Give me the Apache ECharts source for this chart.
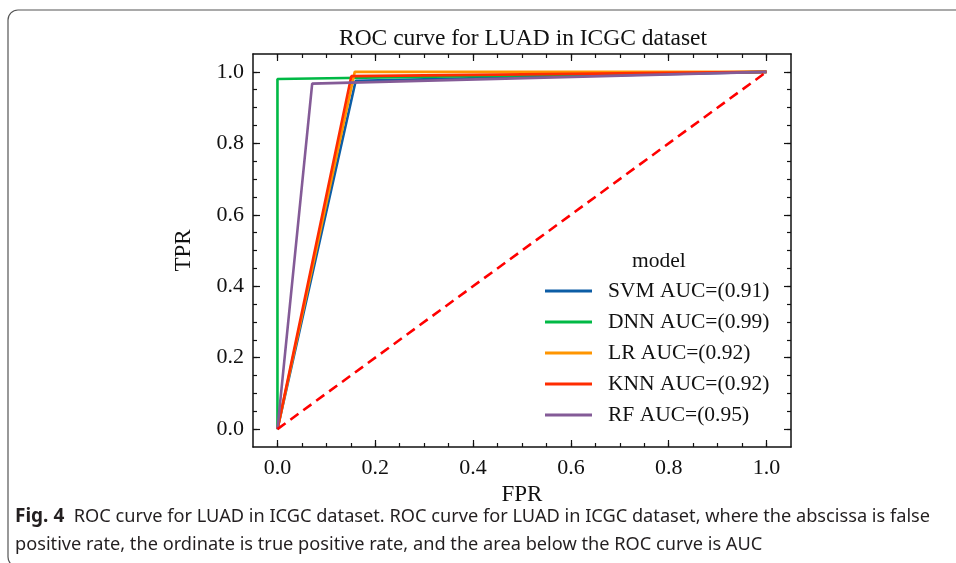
<!DOCTYPE html>
<html>
<head>
<meta charset="utf-8">
<script src="https://cdn.jsdelivr.net/npm/echarts@6/dist/echarts.min.js"></script>
<style>
  html, body { margin: 0; padding: 0; background: #fff; }
  #main { width: 956px; height: 563px; }
</style>
</head>
<body>
<div id="main"></div>
<script>
// ROC points: [FPR, TPR]
const svmPts = [[0, 0], [0.16, 0.975], [1, 1]];
const dnnPts = [[0, 0], [0, 0.98], [1, 1]];
const lrPts = [[0, 0], [0.158, 1.0], [1, 1]];
const knnPts = [[0, 0], [0.151, 0.988], [1, 1]];
const rfPts = [[0, 0], [0.071, 0.967], [1, 1]];
const chancePts = [[0, 0], [1, 1]];

const modelNames = ['SVM AUC=(0.91)', 'DNN AUC=(0.99)', 'LR AUC=(0.92)', 'KNN AUC=(0.92)', 'RF AUC=(0.95)'];
const majorTicks = [0, 0.2, 0.4, 0.6, 0.8, 1.0];
const minorTicks = [0, 0.05, 0.1, 0.15, 0.2, 0.25, 0.3, 0.35, 0.4, 0.45, 0.5,
  0.55, 0.6, 0.65, 0.7, 0.75, 0.8, 0.85, 0.9, 0.95, 1.0];

const colors = ['#0C5DA5', '#00B945', '#FF9500', '#FF2C00', '#845B97'];
const serif = '"Liberation Serif", "DejaVu Serif", serif';
const sans = '"Liberation Sans Narrow", "Noto Sans", sans-serif';

const chart = echarts.init(document.getElementById('main'));

function mkAxis(pos, ticks, len, main) {
  const isX = pos === 'bottom' || pos === 'top';
  const ax = {
    type: 'value',
    position: pos,
    min: -0.05,
    max: 1.05,
    axisLine: { show: main, onZero: false, lineStyle: { color: '#111', width: 1.5 } },
    axisTick: { show: true, inside: true, length: len, customValues: ticks,
      lineStyle: { color: '#111', width: 1.2 } },
    axisLabel: { show: false },
    splitLine: { show: false }
  };
  if (main && (pos === 'bottom' || pos === 'left')) {
    ax.axisLabel = {
      show: true,
      customValues: majorTicks,
      formatter: v => v.toFixed(1),
      color: '#111',
      fontFamily: serif,
      fontSize: 22,
      margin: isX ? 10 : 9
    };
    ax.name = isX ? 'FPR' : 'TPR';
    ax.nameLocation = 'middle';
    ax.nameGap = isX ? 35 : 58;
    ax.nameTextStyle = { color: '#111', fontFamily: serif, fontSize: 23 };
  }
  return ax;
}

const xAxes = [
  mkAxis('bottom', majorTicks, 7, true),
  mkAxis('bottom', minorTicks, 4, false),
  mkAxis('top', majorTicks, 7, true),
  mkAxis('top', minorTicks, 4, false)
];
const yAxes = [
  mkAxis('left', majorTicks, 7, true),
  mkAxis('left', minorTicks, 4, false),
  mkAxis('right', majorTicks, 7, true),
  mkAxis('right', minorTicks, 4, false)
];

const curves = [svmPts, dnnPts, lrPts, knnPts, rfPts];
const series = curves.map((pts, i) => ({
  name: modelNames[i],
  type: 'line',
  data: pts,
  symbol: 'none',
  color: colors[i],
  lineStyle: { width: 2.6, color: colors[i] },
  z: 3 + i
}));
series.push({
  name: 'chance',
  type: 'line',
  data: chancePts,
  symbol: 'none',
  lineStyle: { width: 2.6, color: '#FF0000', type: [10, 6] },
  z: 10
});

const caption = '{b|Fig. 4}  ROC curve for LUAD in ICGC dataset. ROC curve for LUAD in ICGC dataset, where the abscissa is false\n' +
  'positive rate, the ordinate is true positive rate, and the area below the ROC curve is AUC';

chart.setOption({
  backgroundColor: '#fff',
  animation: false,
  title: {
    text: 'ROC curve for LUAD in ICGC dataset',
    left: 518,
    textAlign: 'center',
    top: 22,
    textStyle: { fontFamily: serif, fontSize: 23.5, fontWeight: 'normal', color: '#111' }
  },
  grid: { left: 253, top: 54, width: 538, height: 393 },
  xAxis: xAxes,
  yAxis: yAxes,
  legend: {
    data: modelNames,
    orient: 'vertical',
    left: 540,
    top: 275,
    icon: 'rect',
    itemWidth: 47,
    itemHeight: 3,
    itemGap: 9,
    textStyle: { fontFamily: serif, fontSize: 21.5, lineHeight: 21, color: '#111', padding: [0, 0, 0, 11] }
  },
  series: series,
  graphic: [
    {
      type: 'rect',
      shape: { x: 8, y: 10, width: 1000, height: 557, r: 10 },
      style: { fill: null, stroke: '#555', lineWidth: 1.2 },
      silent: true
    },
    {
      type: 'text',
      left: 632,
      top: 250,
      style: { text: 'model', font: '21.5px ' + serif, fill: '#111' }
    },
    {
      type: 'text',
      left: 15,
      top: 503,
      style: {
        text: caption,
        fill: '#231f20',
        font: '18.2px ' + sans,
        lineHeight: 28,
        rich: {
          b: { fontWeight: 'bold', fontSize: 19, fontFamily: sans, fill: '#231f20' }
        }
      }
    }
  ]
});
</script>
</body>
</html>
